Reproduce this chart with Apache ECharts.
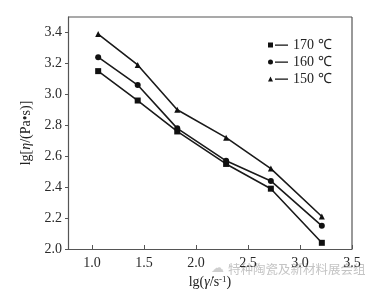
<!DOCTYPE html>
<html lang="zh" style="height: 100%">
<head>
    <meta charset="UTF-8">
    <title>lg(shear rate) - lg(viscosity)</title>
    <script src="https://cdn.jsdelivr.net/npm/echarts@6/dist/echarts.min.js"></script>
</head>
<body style="height: 100%; margin: 0; background: #fff">
<div id="main" style="width: 380px; height: 289px"></div>
<script>
    // lg(shear rate)
    var xVals = [1.06, 1.44, 1.82, 2.29, 2.72, 3.21];
    var t170 = [3.15, 2.96, 2.76, 2.55, 2.39, 2.04];
    var t160 = [3.24, 3.06, 2.78, 2.57, 2.44, 2.15];
    var t150 = [3.39, 3.19, 2.90, 2.72, 2.52, 2.21];
    var xTicks = [1.0, 1.5, 2.0, 2.5, 3.0, 3.5];
    var yTicks = [2.0, 2.2, 2.4, 2.6, 2.8, 3.0, 3.2, 3.4];
    var names = ['170 ℃', '160 ℃', '150 ℃'];

    function pairs(ys) {
        return xVals.map(function (x, i) { return [x, ys[i]]; });
    }

    var font = '"Liberation Serif", "Times New Roman", serif';
    var icons = [
        'path://M0,2.5h5v5h-5z M7,4.5h13v1.2h-13z',
        'path://M0,5a2.5,2.5 0 1,0 5,0a2.5,2.5 0 1,0 -5,0z M7,4.5h13v1.2h-13z',
        'path://M2.5,2.5l2.5,5h-5z M7,4.5h13v1.2h-13z'
    ];
    var symbols = ['rect', 'circle', 'triangle'];

    var option = {
        animation: false,
        backgroundColor: '#fff',
        grid: { left: 68, top: 17, right: 28, bottom: 40, outerBoundsMode: 'none' },
        legend: {
            orient: 'vertical',
            left: 263,
            top: 33,
            itemGap: 3,
            itemWidth: 20,
            itemHeight: 10,
            textStyle: { fontFamily: font, fontSize: 14, color: '#222' },
            data: names.map(function (n, i) { return { name: n, icon: icons[i] }; })
        },
        xAxis: {
            type: 'value',
            min: 0.77,
            max: 3.5,
            name: '{n|lg(}{i|γ̇}{n|/s}{s|-1}{n|)}',
            nameLocation: 'middle',
            nameGap: 26,
            nameTextStyle: {
                rich: {
                    n: { fontFamily: font, fontSize: 14, color: '#222' },
                    i: { fontFamily: font, fontSize: 14, fontStyle: 'italic', color: '#222' },
                    s: { fontFamily: font, fontSize: 9, color: '#222', verticalAlign: 'top', padding: [0, 0, 6, 0] }
                }
            },
            axisLine: { onZero: false, lineStyle: { color: '#555', width: 1.2 } },
            axisTick: { inside: true, length: 4, customValues: xTicks, lineStyle: { color: '#555' } },
            axisLabel: {
                customValues: xTicks,
                formatter: function (v) { return v.toFixed(1); },
                fontFamily: font, fontSize: 14, color: '#2a2a2a', margin: 7
            },
            splitLine: { show: false }
        },
        yAxis: {
            type: 'value',
            min: 2.0,
            max: 3.5,
            name: '{n|lg[}{i|η}{n|/(Pa•s)]}',
            nameLocation: 'middle',
            nameGap: 25,
            nameRotate: 90,
            nameTextStyle: {
                rich: {
                    n: { fontFamily: font, fontSize: 14, color: '#222' },
                    i: { fontFamily: font, fontSize: 14, fontStyle: 'italic', color: '#222' }
                }
            },
            axisLine: { onZero: false, lineStyle: { color: '#555', width: 1.2 } },
            axisTick: { inside: false, length: 3, customValues: yTicks, lineStyle: { color: '#555' } },
            axisLabel: {
                customValues: yTicks,
                formatter: function (v) { return v.toFixed(1); },
                fontFamily: font, fontSize: 14, color: '#2a2a2a', margin: 6
            },
            splitLine: { show: false }
        },
        series: [t170, t160, t150].map(function (ys, i) {
            return {
                name: names[i],
                type: 'line',
                data: pairs(ys),
                symbol: symbols[i],
                symbolSize: 6,
                showAllSymbol: true,
                itemStyle: { color: '#111' },
                lineStyle: { color: '#1a1a1a', width: 1.6 }
            };
        }),
        graphic: [
            // box top and right sides
            { type: 'line', shape: { x1: 68, y1: 17, x2: 352, y2: 17 }, style: { stroke: '#555', lineWidth: 1.2 } },
            { type: 'line', shape: { x1: 352, y1: 17, x2: 352, y2: 249 }, style: { stroke: '#555', lineWidth: 1.2 } },
            // watermark
            { type: 'text', left: 228, top: 263,
              style: { text: '特种陶瓷及新材料展会组', fill: '#c4c4c4', font: '12.5px "Noto Sans CJK SC"' } },
            { type: 'text', left: 211, top: 262,
              style: { text: '☁', fill: '#cfcfcf', font: '13px "DejaVu Sans"' } }
        ]
    };
    var myChart = echarts.init(document.getElementById('main'));
    myChart.setOption(option);
</script>
</body>
</html>
